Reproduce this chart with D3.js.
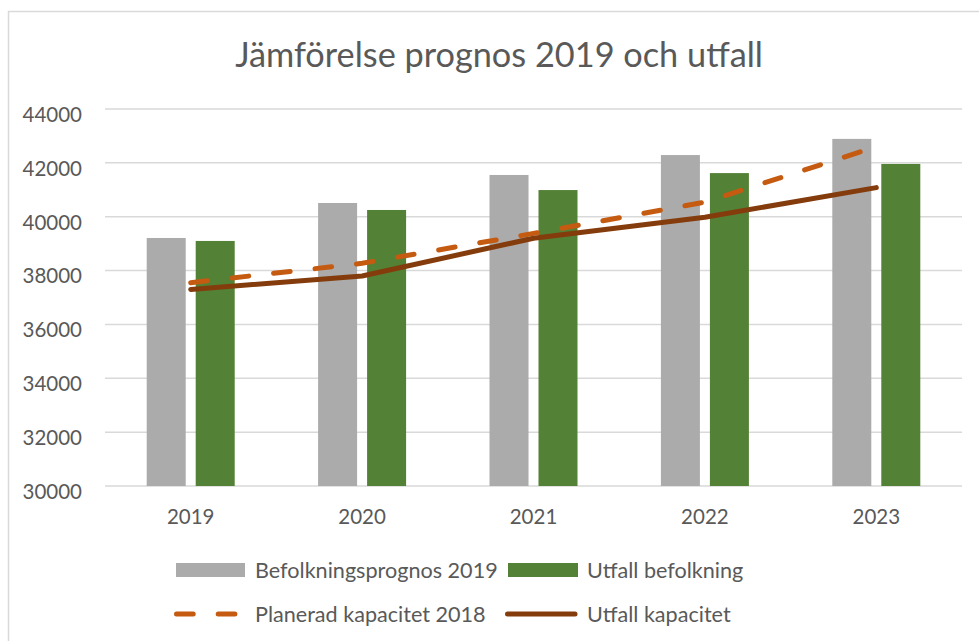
<!DOCTYPE html>
<html>
<head>
<meta charset="utf-8">
<script src="https://cdn.jsdelivr.net/npm/d3@7"></script>
<style>
  html, body { margin: 0; padding: 0; background: #ffffff; }
  svg { display: block; }
  text { font-family: Lato, "Open Sans", sans-serif; fill: #595959; }
</style>
</head>
<body>
<svg id="chart" width="979" height="641"></svg>
<script>
const title = "Jämförelse prognos 2019 och utfall";
const years = ["2019", "2020", "2021", "2022", "2023"];
const prognos2019 = [39210, 40510, 41550, 42290, 42890];
const utfallBefolkning = [39100, 40250, 40990, 41620, 41960];
const planeradKapacitet2018 = [37550, 38270, 39380, 40540, 42600];
const utfallKapacitet = [37300, 37800, 39200, 39980, 41080];
const yTicks = [30000, 32000, 34000, 36000, 38000, 40000, 42000, 44000];
const barNames = ["Befolkningsprognos 2019", "Utfall befolkning"];
const lineNames = ["Planerad kapacitet 2018", "Utfall kapacitet"];

const colors = {
  gray: "#ABABAB",
  green: "#538135",
  orange: "#C55A11",
  brown: "#843C0C",
  grid: "#D9D9D9"
};

const svg = d3.select("#chart");
const W = 979, H = 641;
const plot = { left: 105, right: 962, top: 109, bottom: 486 };

// chart border
svg.append("rect")
  .attr("x", 8.5).attr("y", 11.5)
  .attr("width", W + 10).attr("height", H + 10)
  .attr("fill", "#fff").attr("stroke", colors.grid).attr("stroke-width", 1.5);

const y = d3.scaleLinear().domain([30000, 44000]).range([plot.bottom, plot.top]);
const x = d3.scaleBand().domain(years).range([plot.left, plot.right])
  .paddingInner(0.4866).paddingOuter(0.2433);
const xs = d3.scaleBand().domain([0, 1]).range([0, x.bandwidth()]).paddingInner(0.204);

// gridlines
svg.append("g").selectAll("line").data(yTicks).join("line")
  .attr("x1", plot.left).attr("x2", plot.right)
  .attr("y1", d => y(d)).attr("y2", d => y(d))
  .attr("stroke", colors.grid).attr("stroke-width", 1.5);

// y labels
svg.append("g").selectAll("text").data(yTicks).join("text")
  .attr("x", 82).attr("y", d => y(d) + 12.8)
  .attr("text-anchor", "end")
  .attr("font-size", 20.5)
  .text(d => d);

// x labels
svg.append("g").selectAll("text").data(years).join("text")
  .attr("x", d => x(d) + x.bandwidth() / 2).attr("y", 524)
  .attr("text-anchor", "middle")
  .attr("font-size", 20.5)
  .text(d => d);

// bars
const barSeries = [prognos2019, utfallBefolkning];
const barColors = [colors.gray, colors.green];
barSeries.forEach((vals, si) => {
  svg.append("g").selectAll("rect").data(years).join("rect")
    .attr("x", (d) => x(d) + xs(si))
    .attr("width", xs.bandwidth())
    .attr("y", (d, i) => y(vals[i]))
    .attr("height", (d, i) => y(30000) - y(vals[i]))
    .attr("fill", barColors[si]);
});

// lines
const line = d3.line()
  .x((d, i) => x(years[i]) + x.bandwidth() / 2)
  .y(d => y(d));

svg.append("path").datum(planeradKapacitet2018)
  .attr("d", line)
  .attr("fill", "none").attr("stroke", colors.orange)
  .attr("stroke-width", 5).attr("stroke-linecap", "round")
  .attr("stroke-dasharray", "16.7,25");

svg.append("path").datum(utfallKapacitet)
  .attr("d", line)
  .attr("fill", "none").attr("stroke", colors.brown)
  .attr("stroke-width", 5).attr("stroke-linecap", "round")
  .attr("stroke-linejoin", "round");

// title
svg.append("text")
  .attr("x", 499).attr("y", 66.5)
  .attr("text-anchor", "middle")
  .attr("font-size", 34.3)
  .text(title);

// legend
const lg = svg.append("g");
const lfs = 21.6;
lg.append("rect").attr("x", 176).attr("y", 563).attr("width", 69).attr("height", 14).attr("fill", colors.gray);
lg.append("text").attr("x", 255).attr("y", 577.5).attr("font-size", lfs).text(barNames[0]);
lg.append("rect").attr("x", 508).attr("y", 563).attr("width", 70).attr("height", 14).attr("fill", colors.green);
lg.append("text").attr("x", 587).attr("y", 577.5).attr("font-size", lfs).text(barNames[1]);

lg.append("line").attr("x1", 176.5).attr("x2", 243).attr("y1", 614).attr("y2", 614)
  .attr("stroke", colors.orange).attr("stroke-width", 5)
  .attr("stroke-linecap", "round").attr("stroke-dasharray", "16.7,25");
lg.append("text").attr("x", 255).attr("y", 621.5).attr("font-size", lfs).text(lineNames[0]);
lg.append("line").attr("x1", 507.5).attr("x2", 575).attr("y1", 614).attr("y2", 614)
  .attr("stroke", colors.brown).attr("stroke-width", 5).attr("stroke-linecap", "round");
lg.append("text").attr("x", 587).attr("y", 621.5).attr("font-size", lfs).text(lineNames[1]);
</script>
</body>
</html>
